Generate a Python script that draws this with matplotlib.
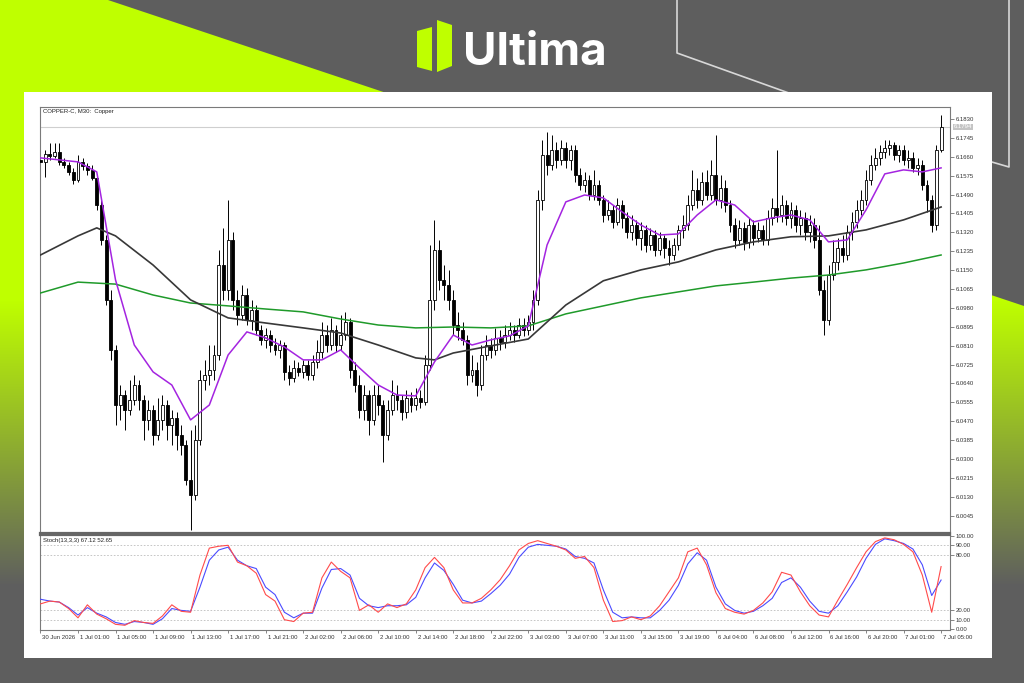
import numpy as np
import matplotlib.pyplot as plt
from matplotlib.patches import Polygon, Rectangle
from matplotlib import transforms

W, H = 1024, 683

# ---- price data (COPPER-C, M30), one value per bar ----
first_open = 6.1646
closes = [
    6.1637, 6.1673, 6.1664, 6.1682, 6.1637, 6.1623, 6.1592, 6.1556, 6.1637, 6.1619,
    6.1601, 6.1565, 6.1443, 6.1286, 6.1016, 6.0791, 6.0543, 6.0588, 6.0521, 6.0566,
    6.0633, 6.0566, 6.0476, 6.0521, 6.0408, 6.0476, 6.0543, 6.0453, 6.0485, 6.0408,
    6.0363, 6.0206, 6.0138, 6.0386, 6.0656, 6.0678, 6.0701, 6.0768, 6.1173, 6.1061,
    6.1286, 6.1016, 6.0948, 6.1038, 6.0926, 6.0971, 6.0881, 6.0836, 6.0858, 6.0813,
    6.0791, 6.0813, 6.0692, 6.0665, 6.0710, 6.0692, 6.0723, 6.0678, 6.0737, 6.0782,
    6.0858, 6.0813, 6.0881, 6.0813, 6.0858, 6.0917, 6.0701, 6.0633, 6.0521, 6.0588,
    6.0476, 6.0588, 6.0543, 6.0408, 6.0521, 6.0588, 6.0566, 6.0512, 6.0575, 6.0543,
    6.0575, 6.0557, 6.0723, 6.1016, 6.1241, 6.1106, 6.1083, 6.1016, 6.0903, 6.0881,
    6.0836, 6.0678, 6.0701, 6.0633, 6.0768, 6.0813, 6.0791, 6.0845, 6.0827, 6.0858,
    6.0881, 6.0858, 6.0903, 6.0881, 6.0917, 6.1016, 6.1466, 6.1668, 6.1623, 6.1691,
    6.1646, 6.1699, 6.1646, 6.1691, 6.1578, 6.1533, 6.1556, 6.1488, 6.1533, 6.1466,
    6.1398, 6.1421, 6.1367, 6.1443, 6.1385, 6.1322, 6.1353, 6.1295, 6.1331, 6.1263,
    6.1308, 6.1241, 6.1295, 6.1250, 6.1218, 6.1263, 6.1331, 6.1353, 6.1443, 6.1511,
    6.1466, 6.1547, 6.1488, 6.1578, 6.1466, 6.1520, 6.1443, 6.1353, 6.1286, 6.1340,
    6.1277, 6.1353, 6.1295, 6.1331, 6.1286, 6.1385, 6.1430, 6.1398, 6.1443, 6.1385,
    6.1421, 6.1353, 6.1385, 6.1322, 6.1353, 6.1286, 6.1061, 6.0926, 6.1128, 6.1187,
    6.1250, 6.1218, 6.1322, 6.1367, 6.1421, 6.1466, 6.1556, 6.1623, 6.1655, 6.1682,
    6.1699, 6.1713, 6.1668, 6.1691, 6.1646, 6.1655, 6.1610, 6.1623, 6.1533, 6.1466,
    6.1353, 6.1691, 6.1794,
]
highs = [
    6.1668, 6.1691, 6.1722, 6.1722, 6.1722, 6.1655, 6.1637, 6.1610, 6.1668, 6.1655,
    6.1632, 6.1623, 6.1583, 6.1466, 6.1308, 6.1061, 6.0813, 6.0633, 6.0611, 6.0656,
    6.0678, 6.0656, 6.0588, 6.0566, 6.0543, 6.0575, 6.0588, 6.0566, 6.0521, 6.0512,
    6.0453, 6.0386, 6.0431, 6.0453, 6.0701, 6.0746, 6.0813, 6.0813, 6.1241, 6.1340,
    6.1466, 6.1322, 6.1061, 6.1083, 6.1070, 6.1016, 6.0993, 6.0903, 6.0890, 6.0881,
    6.0845, 6.0836, 6.0827, 6.0723, 6.0746, 6.0737, 6.0746, 6.0746, 6.0768, 6.0836,
    6.0917, 6.0903, 6.0935, 6.0903, 6.0948, 6.0962, 6.0935, 6.0737, 6.0678, 6.0633,
    6.0611, 6.0633, 6.0633, 6.0566, 6.0566, 6.0656, 6.0633, 6.0588, 6.0611, 6.0602,
    6.0620, 6.0611, 6.0768, 6.1263, 6.1376, 6.1286, 6.1173, 6.1151, 6.1061, 6.0962,
    6.0917, 6.0858, 6.0768, 6.0737, 6.0813, 6.0858, 6.0845, 6.0890, 6.0881, 6.0903,
    6.0917, 6.0903, 6.0935, 6.0935, 6.0948, 6.1061, 6.1511, 6.1736, 6.1771, 6.1758,
    6.1726, 6.1736, 6.1726, 6.1713, 6.1713, 6.1610, 6.1592, 6.1578, 6.1601, 6.1556,
    6.1488, 6.1466, 6.1443, 6.1475, 6.1466, 6.1412, 6.1398, 6.1376, 6.1367, 6.1353,
    6.1340, 6.1331, 6.1322, 6.1308, 6.1286, 6.1295, 6.1353, 6.1398, 6.1488, 6.1601,
    6.1565, 6.1592, 6.1601, 6.1646, 6.1758, 6.1578, 6.1556, 6.1466, 6.1385, 6.1376,
    6.1367, 6.1385, 6.1376, 6.1367, 6.1353, 6.1421, 6.1475, 6.1691, 6.1488, 6.1466,
    6.1457, 6.1443, 6.1421, 6.1412, 6.1398, 6.1385, 6.1353, 6.1106, 6.1173, 6.1286,
    6.1295, 6.1308, 6.1353, 6.1412, 6.1466, 6.1511, 6.1601, 6.1668, 6.1699, 6.1713,
    6.1736, 6.1736, 6.1726, 6.1713, 6.1713, 6.1691, 6.1682, 6.1655, 6.1646, 6.1556,
    6.1488, 6.1713, 6.1848,
]
lows = [
    6.1601, 6.1569, 6.1646, 6.1655, 6.1623, 6.1610, 6.1578, 6.1538, 6.1547, 6.1601,
    6.1578, 6.1556, 6.1421, 6.1263, 6.0993, 6.0746, 6.0453, 6.0476, 6.0431, 6.0498,
    6.0543, 6.0521, 6.0386, 6.0431, 6.0363, 6.0386, 6.0431, 6.0386, 6.0363, 6.0341,
    6.0318, 6.0183, 5.9981, 6.0116, 6.0363, 6.0611, 6.0633, 6.0656, 6.0746, 6.1016,
    6.1016, 6.0971, 6.0903, 6.0926, 6.0903, 6.0881, 6.0858, 6.0813, 6.0800, 6.0782,
    6.0768, 6.0755, 6.0656, 6.0633, 6.0647, 6.0674, 6.0665, 6.0656, 6.0656, 6.0710,
    6.0755, 6.0782, 6.0791, 6.0782, 6.0791, 6.0836, 6.0665, 6.0602, 6.0485, 6.0476,
    6.0408, 6.0453, 6.0498, 6.0287, 6.0386, 6.0498, 6.0521, 6.0476, 6.0485, 6.0512,
    6.0521, 6.0530, 6.0543, 6.0701, 6.0971, 6.1061, 6.1016, 6.0971, 6.0858, 6.0836,
    6.0813, 6.0633, 6.0647, 6.0584, 6.0611, 6.0746, 6.0755, 6.0768, 6.0791, 6.0800,
    6.0836, 6.0827, 6.0845, 6.0854, 6.0858, 6.0881, 6.0993, 6.1421, 6.1578, 6.1601,
    6.1610, 6.1623, 6.1610, 6.1601, 6.1547, 6.1511, 6.1502, 6.1466, 6.1466, 6.1443,
    6.1367, 6.1376, 6.1340, 6.1353, 6.1340, 6.1295, 6.1286, 6.1263, 6.1241, 6.1232,
    6.1241, 6.1214, 6.1218, 6.1205, 6.1173, 6.1196, 6.1241, 6.1295, 6.1331, 6.1421,
    6.1430, 6.1443, 6.1466, 6.1466, 6.1443, 6.1430, 6.1412, 6.1322, 6.1250, 6.1263,
    6.1241, 6.1250, 6.1263, 6.1277, 6.1263, 6.1263, 6.1353, 6.1367, 6.1367, 6.1353,
    6.1340, 6.1322, 6.1308, 6.1286, 6.1277, 6.1250, 6.1038, 6.0858, 6.0903, 6.1106,
    6.1151, 6.1187, 6.1196, 6.1286, 6.1340, 6.1398, 6.1443, 6.1533, 6.1601, 6.1623,
    6.1655, 6.1668, 6.1646, 6.1637, 6.1623, 6.1610, 6.1592, 6.1578, 6.1511, 6.1412,
    6.1322, 6.1331, 6.1682,
]

# ---- moving averages ----
ma_fast_bars = list(range(0, 193, 4))
ma_fast = [
    6.1655, 6.1646, 6.1637, 6.1592, 6.1106, 6.0813, 6.0692, 6.0633, 6.0476, 6.0543,
    6.0768, 6.0872, 6.0845, 6.0804, 6.0746, 6.0746, 6.0791, 6.0710, 6.0633, 6.0588,
    6.0584, 6.0737, 6.0858, 6.0813, 6.0836, 6.0854, 6.0899, 6.1263, 6.1457, 6.1488,
    6.1475, 6.1412, 6.1353, 6.1308, 6.1313, 6.1398, 6.1466, 6.1443, 6.1367, 6.1385,
    6.1398, 6.1376, 6.1277, 6.1286, 6.1421, 6.1583, 6.1601, 6.1592, 6.1610,
]
ma_mid_bars = [0, 8, 12, 16, 24, 32, 40, 48, 56, 64, 72, 80, 84, 88, 96, 104,
               112, 120, 128, 136, 144, 152, 160, 168, 176, 184, 192]
ma_mid = [
    6.1218, 6.1304, 6.1340, 6.1304, 6.1173, 6.1016, 6.0935, 6.0912, 6.0890, 6.0867,
    6.0813, 6.0755, 6.0746, 6.0777, 6.0809, 6.0840, 6.0993, 6.1102, 6.1151, 6.1187,
    6.1241, 6.1277, 6.1300, 6.1304, 6.1331, 6.1376, 6.1434,
]
ma_slow_bars = list(range(0, 193, 8))
ma_slow = [
    6.1047, 6.1096, 6.1087, 6.1038, 6.1002, 6.0989, 6.0975, 6.0962, 6.0930, 6.0903,
    6.0890, 6.0894, 6.0890, 6.0899, 6.0953, 6.0989, 6.1025, 6.1052, 6.1079, 6.1096,
    6.1114, 6.1128, 6.1151, 6.1182, 6.1218,
]

# ---- stochastic (13,3,3) ----
stoch_bars = list(range(0, 193, 2))
stoch_main = [
    27, 30, 29, 22, 12, 26, 16, 11, 5, 4,
    9, 7, 6, 14, 26, 19, 18, 58, 87, 89,
    90, 72, 68, 60, 37, 30, 10, 8, 17, 18,
    55, 72, 62, 55, 20, 26, 18, 27, 23, 27,
    42, 66, 77, 66, 42, 28, 28, 33, 42, 53,
    68, 85, 92, 95, 92, 89, 85, 76, 78, 66,
    31, 8, 9, 13, 10, 14, 25, 40, 55, 83,
    87, 69, 39, 22, 18, 16, 20, 28, 40, 61,
    58, 40, 25, 15, 13, 31, 48, 66, 83, 94,
    98, 96, 91, 83, 58, 18, 67.12,
]
stoch_signal = [
    32, 30, 29, 23, 15, 23, 17, 13, 7, 5,
    8, 7, 5, 11, 22, 20, 19, 45, 74, 85,
    88, 74, 68, 65, 45, 37, 18, 12, 17, 17,
    44, 64, 65, 58, 33, 25, 23, 25, 25, 26,
    34, 55, 71, 63, 48, 31, 28, 30, 38, 47,
    59, 77, 88, 91, 90, 89, 86, 78, 76, 71,
    42, 18, 12, 13, 12, 12, 20, 31, 47, 70,
    82, 74, 45, 27, 20, 17, 19, 25, 33, 50,
    55, 45, 30, 19, 17, 25, 40, 56, 76, 91,
    97, 95, 92, 86, 69, 36, 52.65,
]

price_ticks = [6.1830, 6.1745, 6.1660, 6.1575, 6.1490, 6.1405, 6.1320, 6.1235,
               6.1150, 6.1065, 6.0980, 6.0895, 6.0810, 6.0725, 6.0640, 6.0555,
               6.0470, 6.0385, 6.0300, 6.0215, 6.0130, 6.0045]
stoch_ticks = [100, 90, 80, 20, 10, 0]
time_labels = ["30 Jun 2026", "1 Jul 01:00", "1 Jul 05:00", "1 Jul 09:00",
               "1 Jul 13:00", "1 Jul 17:00", "1 Jul 21:00", "2 Jul 02:00",
               "2 Jul 06:00", "2 Jul 10:00", "2 Jul 14:00", "2 Jul 18:00",
               "2 Jul 22:00", "3 Jul 03:00", "3 Jul 07:00", "3 Jul 11:00",
               "3 Jul 15:00", "3 Jul 19:00", "6 Jul 04:00", "6 Jul 08:00",
               "6 Jul 12:00", "6 Jul 16:00", "6 Jul 20:00", "7 Jul 01:00",
               "7 Jul 05:00"]
time_label_bars = list(range(0, 193, 8))

LIME = "#bfff00"
GREY = "#5e5e5e"
TICK_FONT = "Liberation Sans"

fig = plt.figure(figsize=(W / 100, H / 100), dpi=100, facecolor=GREY)

# ---- branded background ----
bg = fig.add_axes([0, 0, 1, 1])
bg.add_patch(Rectangle((0, 0), W, H, facecolor=GREY, edgecolor="none", zorder=0))
rows = np.arange(H)
t = np.clip((rows - 300) / 285.0, 0, 1)
c_lime = np.array([0.75, 1.0, 0.0])
c_grey = np.array([0.37, 0.37, 0.37])
grad = c_lime[None, :] * (1 - t[:, None]) + c_grey[None, :] * t[:, None]
im = bg.imshow(grad[:, None, :], extent=[0, W, H, 0], aspect="auto", zorder=1)
clip = Polygon([(0, 0), (108, 0), (W, 306), (W, H), (0, H)], closed=True,
               facecolor="none", edgecolor="none", transform=bg.transData)
bg.add_patch(clip)
im.set_clip_path(clip)
bg.plot([677, 677, 800], [0, 53, 97], color="#d8d8d8", lw=1.2, zorder=2)
bg.plot([1009, 1009, 985], [0, 167, 160], color="#d8d8d8", lw=1.2, zorder=2)
bg.add_patch(Rectangle((24, 92), 968, 566, facecolor="white", edgecolor="none", zorder=3))
bg.add_patch(Polygon([(417, 31), (432, 27), (432, 71), (417, 67)], closed=True,
                     facecolor=LIME, edgecolor="none", zorder=4))
bg.add_patch(Polygon([(437, 20), (452, 25), (452, 66), (437, 72)], closed=True,
                     facecolor=LIME, edgecolor="none", zorder=4))
bg.text(463, 65, "Ultima", color="white", fontsize=33, fontweight="bold",
        family=["Inter", "DejaVu Sans"], va="baseline", ha="left", zorder=4)
bg.set_xlim(0, W)
bg.set_ylim(H, 0)
bg.axis("off")

# ---- price panel ----
x0, x1 = 40, 950
ax = fig.add_axes([x0 / W, 1 - 533 / H, (x1 - x0) / W, 426 / H])
ax_st = fig.add_axes([x0 / W, 1 - 630 / H, (x1 - x0) / W, 95 / H])

n = len(closes)
x = np.arange(n)
c = np.array(closes)
o = np.concatenate([[first_open], c[:-1]])
hi = np.maximum(np.array(highs), np.maximum(o, c))
lo = np.minimum(np.array(lows), np.minimum(o, c))
bull = c >= o

ax.vlines(x, lo, hi, color="black", lw=0.7, zorder=2)
body = np.where(np.abs(c - o) < 0.00015, 0.00015, c - o)
ax.bar(x[bull], body[bull], bottom=o[bull], width=0.62, facecolor="white",
       edgecolor="black", linewidth=0.6, zorder=3)
ax.bar(x[~bull], body[~bull], bottom=o[~bull], width=0.62, facecolor="black",
       edgecolor="black", linewidth=0.6, zorder=3)

ax.plot(ma_slow_bars, ma_slow, color="#1f9a2a", lw=1.1, zorder=4)
ax.plot(ma_mid_bars, ma_mid, color="#383838", lw=1.2, zorder=4)
ax.plot(ma_fast_bars, ma_fast, color="#a424e0", lw=1.1, zorder=4)
ax.axhline(closes[-1], color="#cfcfcf", lw=0.8, zorder=1)

xlim = (-0.1, 193.9)
ax.set_xlim(*xlim)
ax.set_ylim(5.9967, 6.1884)
ax.set_xticks([])
ax.yaxis.tick_right()
ax.set_yticks(price_ticks)
ax.set_yticklabels([f"{v:.4f}" for v in price_ticks], fontsize=4.3,
                   family=TICK_FONT, color="#333333")
ax.tick_params(axis="y", length=3, width=0.5, pad=1, color="#555555")
for s in ax.spines.values():
    s.set_color("#7a7a7a")
    s.set_linewidth(0.8)
ax.spines["bottom"].set_linewidth(1.6)
ax.spines["bottom"].set_color("#666666")
ax.text(0.003, 0.995, "COPPER-C, M30:  Copper", transform=ax.transAxes,
        fontsize=4.3, family=TICK_FONT, va="top", ha="left", color="#222222")
tr = transforms.blended_transform_factory(ax.transAxes, ax.transData)
ax.text(1.004, closes[-1], f"{closes[-1]:.4f}", transform=tr, fontsize=4.3,
        family=TICK_FONT, color="white", va="center", ha="left",
        bbox=dict(boxstyle="square,pad=0.15", facecolor="#c4c4c4", edgecolor="none"))

# ---- stochastic panel ----
for lvl in (90, 80, 20, 10):
    ax_st.axhline(lvl, color="#bdbdbd", lw=0.6, ls=(0, (2, 2)), zorder=1)
ax_st.plot(stoch_bars, stoch_signal, color="#4b4bff", lw=0.8, zorder=3)
ax_st.plot(stoch_bars, stoch_main, color="#ff4b4b", lw=0.8, zorder=3)
ax_st.set_xlim(*xlim)
ax_st.set_ylim(-1.1, 101.1)
ax_st.yaxis.tick_right()
ax_st.set_yticks(stoch_ticks)
ax_st.set_yticklabels([f"{v:.2f}" for v in stoch_ticks], fontsize=4.3,
                      family=TICK_FONT, color="#333333")
ax_st.tick_params(axis="y", length=3, width=0.5, pad=1, color="#555555")
ax_st.set_xticks(time_label_bars)
ax_st.set_xticklabels([])
ax_st.tick_params(axis="x", length=2.5, width=0.5, color="#555555")
trx = transforms.blended_transform_factory(ax_st.transData, ax_st.transAxes)
for b, lab in zip(time_label_bars, time_labels):
    ax_st.text(b + 0.4, -0.05, lab, transform=trx, fontsize=4.3, family=TICK_FONT,
               color="#333333", ha="left", va="top")
for s in ax_st.spines.values():
    s.set_color("#7a7a7a")
    s.set_linewidth(0.8)
ax_st.spines["top"].set_linewidth(1.6)
ax_st.spines["top"].set_color("#666666")
ax_st.text(0.003, 0.97, "Stoch(13,3,3) 67.12 52.65", transform=ax_st.transAxes,
           fontsize=4.3, family=TICK_FONT, va="top", ha="left", color="#222222")

fig.savefig("out.png", dpi=100, facecolor=GREY)
